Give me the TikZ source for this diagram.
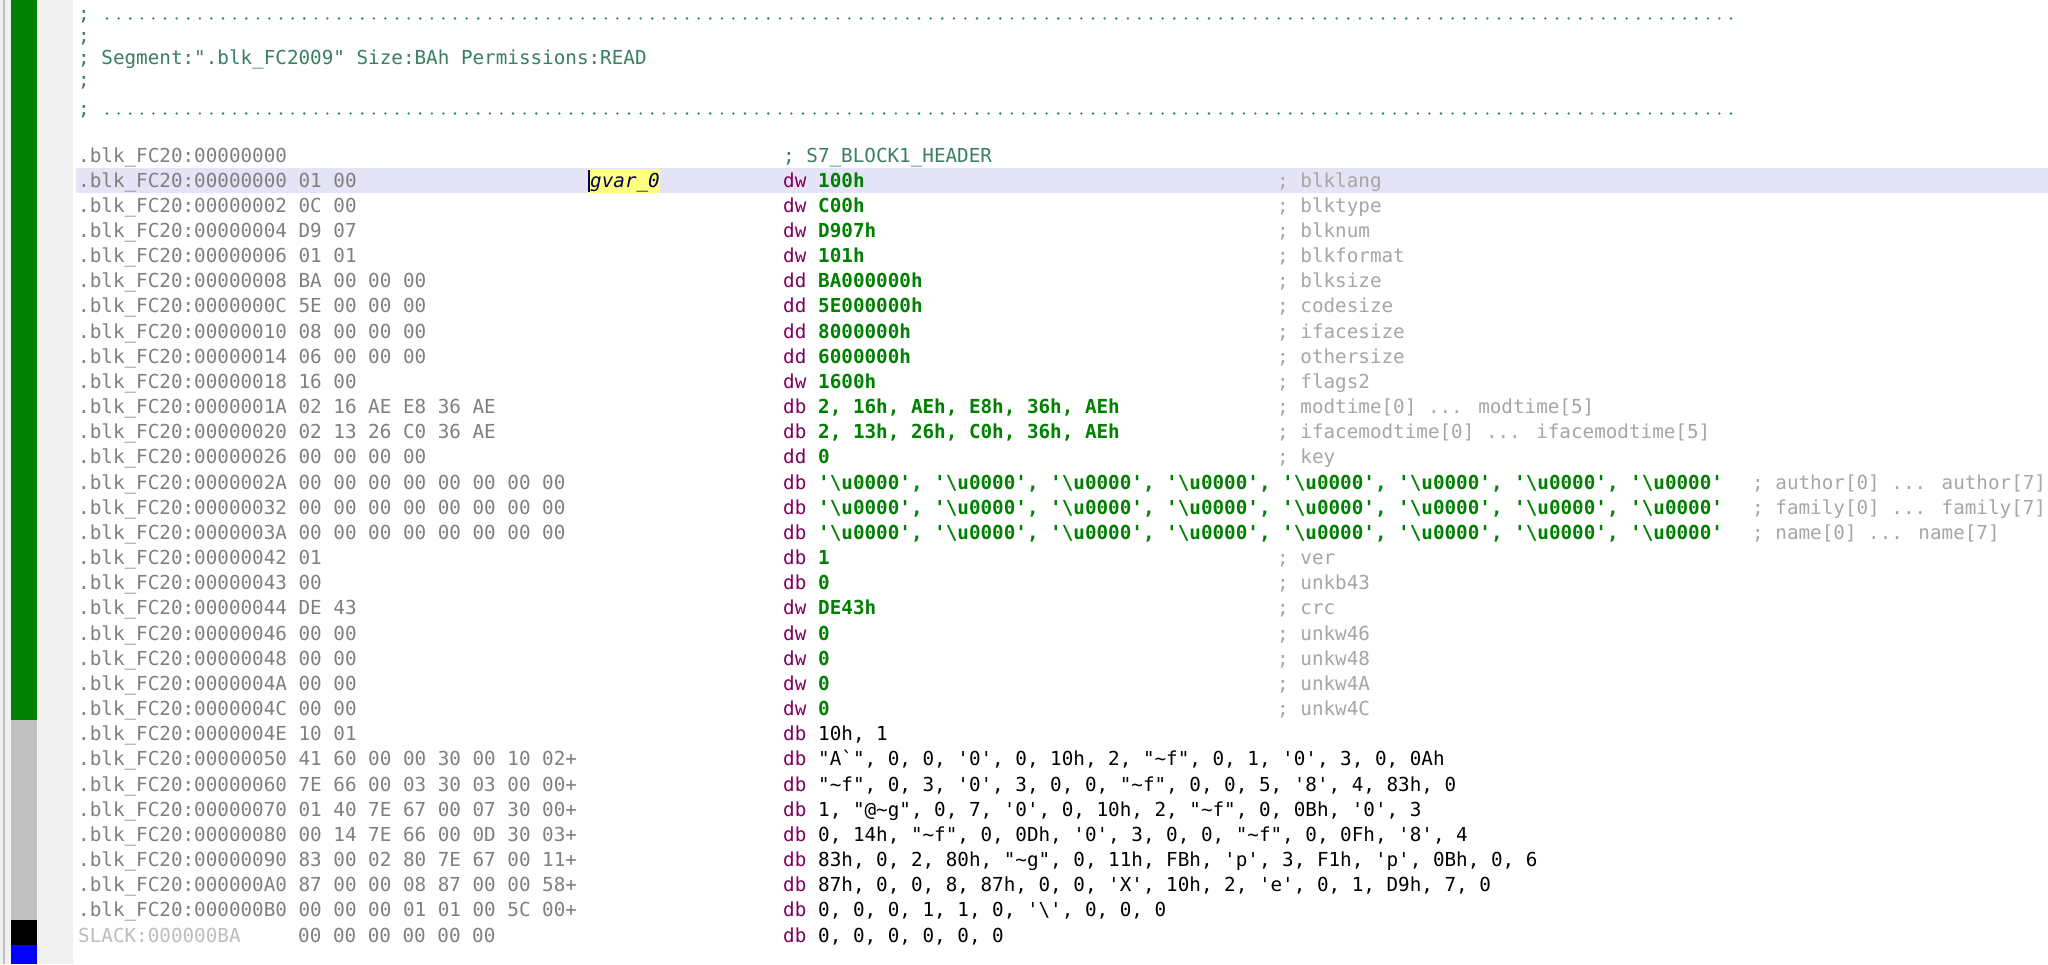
\documentclass[tikz,border=0pt]{standalone}
\usepackage{fontspec}
\newfontfamily\mono{DejaVu Sans Mono}[Ligatures=TeXOff]
\definecolor{addrc}{HTML}{7F7F7F}
\definecolor{slackc}{HTML}{BDBDBD}
\definecolor{kwc}{HTML}{800060}
\definecolor{opg}{HTML}{008000}
\definecolor{cmc}{HTML}{A6A6A6}
\definecolor{segc}{HTML}{3A7F62}
\definecolor{hlc}{HTML}{E4E4F6}
\definecolor{yel}{HTML}{FFFF80}
\definecolor{gvc}{HTML}{000050}
\definecolor{bargreen}{HTML}{008000}
\definecolor{bargray}{HTML}{C0C0C0}
\definecolor{panel}{HTML}{F0F0F0}
\tikzset{
 t/.style={anchor=base west, inner sep=0pt, font=\mono\fontsize{19.27}{22}\selectfont},
 tb/.style={t, font=\mono\bfseries\fontsize{19.27}{22}\selectfont},
}
\newcommand\uz{'\textbackslash u0000'}
\newcommand\tl{\textasciitilde}
\newcommand\Gr[5]{% idx addr kw operand comment (green operand)
 \node[t,text=addrc] (a#1) at (78,{-(187+#1*25.17)}) {#2};
 \node[t,text=kwc] (k#1) at (783,{-(187+#1*25.17)}) {#3};
 \node[tb,text=opg] (o#1) at (818,{-(187+#1*25.17)}) {#4};
 \node[t,text=cmc] (c#1) at (1277,{-(187+#1*25.17)}) {#5};}
\newcommand\Lg[4]{% long rows
 \node[t,text=addrc] (a#1) at (78,{-(187+#1*25.17)}) {#2};
 \node[t,text=kwc] (k#1) at (783,{-(187+#1*25.17)}) {db};
 \node[tb,text=opg] (o#1) at (818,{-(187+#1*25.17)}) {\uz, \uz, \uz, \uz, \uz, \uz, \uz, \uz};
 \node[t,text=cmc] (c#1) at (1752,{-(187+#1*25.17)}) {#4};}
\newcommand\Bk[3]{% black operand
 \node[t,text=addrc] (a#1) at (78,{-(187+#1*25.17)}) {#2};
 \node[t,text=kwc] (k#1) at (783,{-(187+#1*25.17)}) {db};
 \node[t,text=black] (o#1) at (818,{-(187+#1*25.17)}) {#3};}
\begin{document}
\begin{tikzpicture}[x=1pt,y=1pt]
\useasboundingbox (0,0) rectangle (2048,-964);
\fill[white] (0,0) rectangle (2048,-964);
% left gutter
\fill[panel] (0,0) rectangle (11,-964);
\fill[bargray] (3,0) rectangle (4.5,-964);
\fill[panel] (37,0) rectangle (73,-964);
\fill[bargreen] (11,0) rectangle (37,-720);
\fill[bargray] (11,-720) rectangle (37,-920);
\fill[black] (11,-920) rectangle (37,-945);
\fill[blue] (11,-945) rectangle (37,-964);
% highlight row
\fill[hlc] (76,-168) rectangle (2048,-193);
\fill[yel] (588,-169) rectangle (660,-193);
\draw[gvc,line width=1.2pt] (589,-170) -- (589,-192);
% segment header
\node[t,text=segc] (d1) at (78,-20) {;};
\foreach \i in {0,...,140} \fill[segc] ({107+\i*11.6},-18.5) circle (1.3);
\node[t,text=segc] (s1) at (78,-42) {;};
\node[t,text=segc] (s2) at (78,-64) {; Segment:".blk\_FC2009" Size:BAh Permissions:READ};
\node[t,text=segc] (s3) at (78,-86) {;};
\node[t,text=segc] (d2) at (78,-115) {;};
\foreach \i in {0,...,140} \fill[segc] ({107+\i*11.6},-113.5) circle (1.3);
% header row
\node[t,text=addrc] (h0) at (78,-162) {.blk\_FC20:00000000};
\node[t,text=segc] (h1) at (783,-162) {; S7\_BLOCK1\_HEADER};
\node[t,text=gvc,font=\mono\itshape\fontsize{19.27}{22}\selectfont] (gv) at (590,-187) {gvar\_0};
% rows
\Gr{0}{.blk\_FC20:00000000 01 00}{dw}{100h}{; blklang}
\Gr{1}{.blk\_FC20:00000002 0C 00}{dw}{C00h}{; blktype}
\Gr{2}{.blk\_FC20:00000004 D9 07}{dw}{D907h}{; blknum}
\Gr{3}{.blk\_FC20:00000006 01 01}{dw}{101h}{; blkformat}
\Gr{4}{.blk\_FC20:00000008 BA 00 00 00}{dd}{BA000000h}{; blksize}
\Gr{5}{.blk\_FC20:0000000C 5E 00 00 00}{dd}{5E000000h}{; codesize}
\Gr{6}{.blk\_FC20:00000010 08 00 00 00}{dd}{8000000h}{; ifacesize}
\Gr{7}{.blk\_FC20:00000014 06 00 00 00}{dd}{6000000h}{; othersize}
\Gr{8}{.blk\_FC20:00000018 16 00}{dw}{1600h}{; flags2}
\Gr{9}{.blk\_FC20:0000001A 02 16 AE E8 36 AE}{db}{2, 16h, AEh, E8h, 36h, AEh}{; modtime[0] ... modtime[5]}
\Gr{10}{.blk\_FC20:00000020 02 13 26 C0 36 AE}{db}{2, 13h, 26h, C0h, 36h, AEh}{; ifacemodtime[0] ... ifacemodtime[5]}
\Gr{11}{.blk\_FC20:00000026 00 00 00 00}{dd}{0}{; key}
\Lg{12}{.blk\_FC20:0000002A 00 00 00 00 00 00 00 00}{}{; author[0] ... author[7]}
\Lg{13}{.blk\_FC20:00000032 00 00 00 00 00 00 00 00}{}{; family[0] ... family[7]}
\Lg{14}{.blk\_FC20:0000003A 00 00 00 00 00 00 00 00}{}{; name[0] ... name[7]}
\Gr{15}{.blk\_FC20:00000042 01}{db}{1}{; ver}
\Gr{16}{.blk\_FC20:00000043 00}{db}{0}{; unkb43}
\Gr{17}{.blk\_FC20:00000044 DE 43}{dw}{DE43h}{; crc}
\Gr{18}{.blk\_FC20:00000046 00 00}{dw}{0}{; unkw46}
\Gr{19}{.blk\_FC20:00000048 00 00}{dw}{0}{; unkw48}
\Gr{20}{.blk\_FC20:0000004A 00 00}{dw}{0}{; unkw4A}
\Gr{21}{.blk\_FC20:0000004C 00 00}{dw}{0}{; unkw4C}
\Bk{22}{.blk\_FC20:0000004E 10 01}{10h, 1}
\Bk{23}{.blk\_FC20:00000050 41 60 00 00 30 00 10 02+}{"A`", 0, 0, '0', 0, 10h, 2, "\tl f", 0, 1, '0', 3, 0, 0Ah}
\Bk{24}{.blk\_FC20:00000060 7E 66 00 03 30 03 00 00+}{"\tl f", 0, 3, '0', 3, 0, 0, "\tl f", 0, 0, 5, '8', 4, 83h, 0}
\Bk{25}{.blk\_FC20:00000070 01 40 7E 67 00 07 30 00+}{1, "@\tl g", 0, 7, '0', 0, 10h, 2, "\tl f", 0, 0Bh, '0', 3}
\Bk{26}{.blk\_FC20:00000080 00 14 7E 66 00 0D 30 03+}{0, 14h, "\tl f", 0, 0Dh, '0', 3, 0, 0, "\tl f", 0, 0Fh, '8', 4}
\Bk{27}{.blk\_FC20:00000090 83 00 02 80 7E 67 00 11+}{83h, 0, 2, 80h, "\tl g", 0, 11h, FBh, 'p', 3, F1h, 'p', 0Bh, 0, 6}
\Bk{28}{.blk\_FC20:000000A0 87 00 00 08 87 00 00 58+}{87h, 0, 0, 8, 87h, 0, 0, 'X', 10h, 2, 'e', 0, 1, D9h, 7, 0}
\Bk{29}{.blk\_FC20:000000B0 00 00 00 01 01 00 5C 00+}{0, 0, 0, 1, 1, 0, '\textbackslash', 0, 0, 0}
\node[t,text=slackc] (a30) at (78,{-(187+30*25.17)}) {SLACK:000000BA};
\node[t,text=addrc] (b30) at (298,{-(187+30*25.17)}) {00 00 00 00 00 00};
\node[t,text=kwc] (k30) at (783,{-(187+30*25.17)}) {db};
\node[t,text=black] (o30) at (818,{-(187+30*25.17)}) {0, 0, 0, 0, 0, 0};
\end{tikzpicture}
\end{document}
